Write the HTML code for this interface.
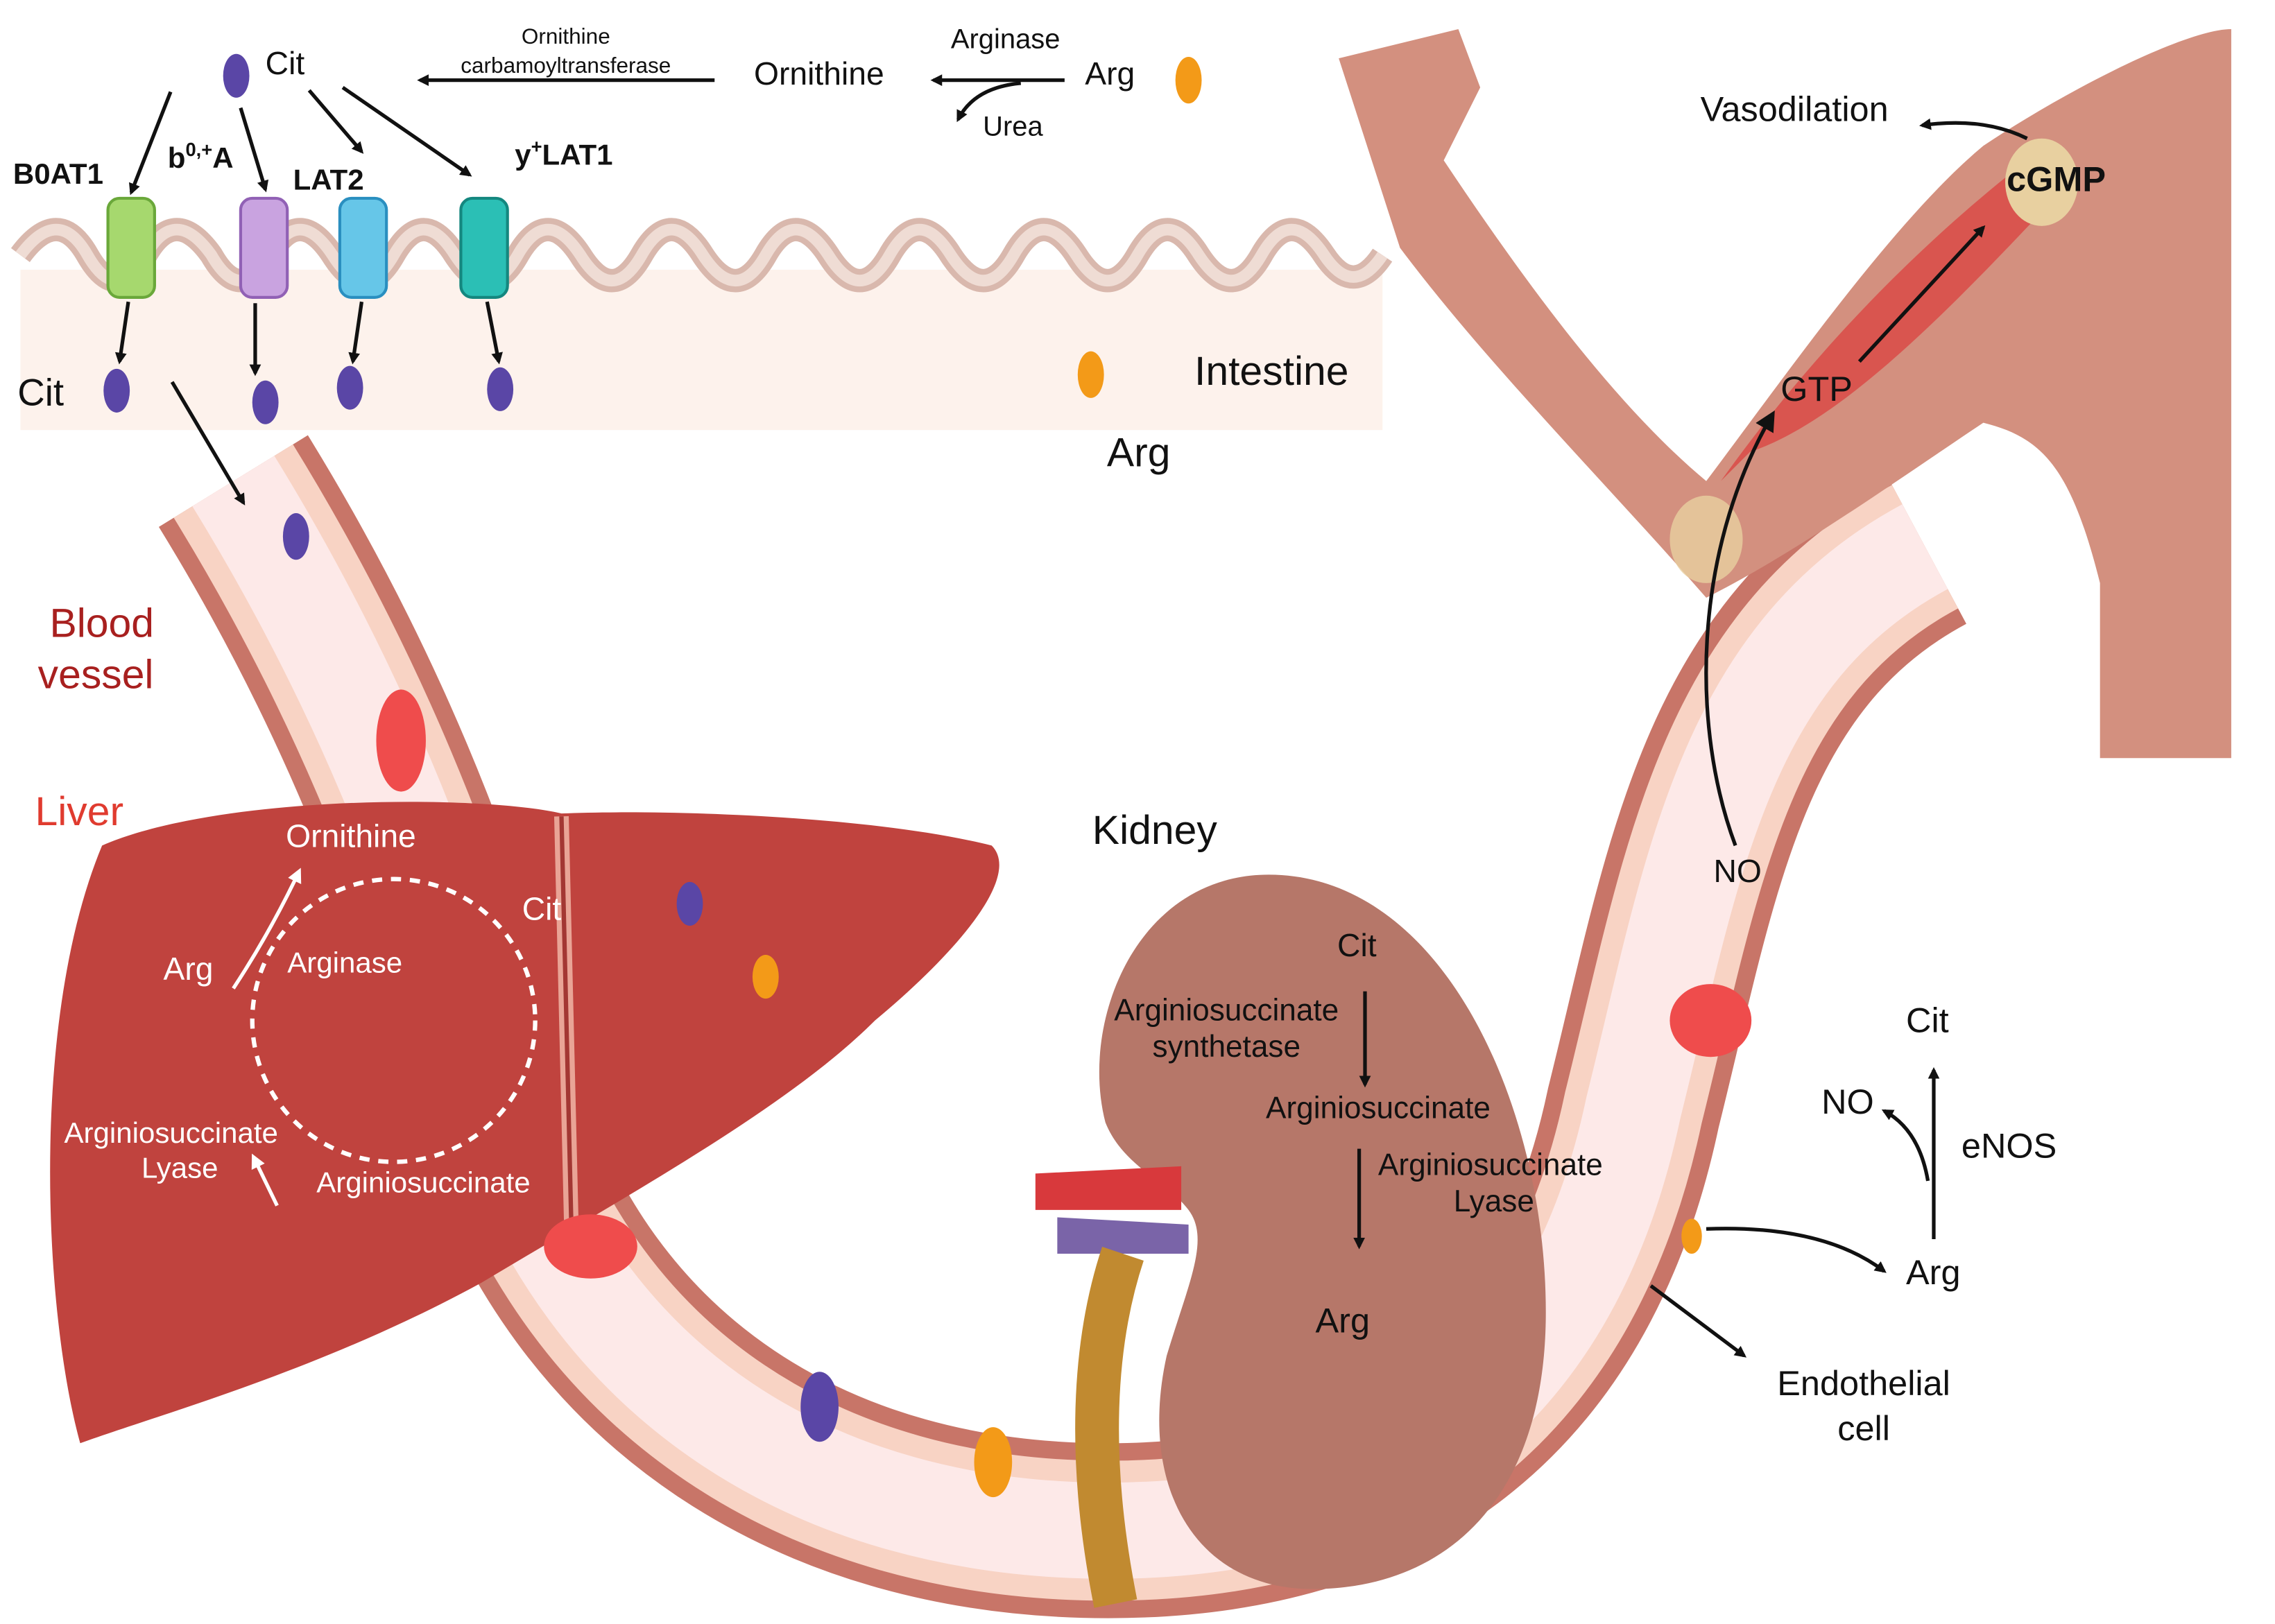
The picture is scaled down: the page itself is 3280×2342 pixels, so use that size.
<!DOCTYPE html>
<html><head><meta charset="utf-8"><style>
html,body{margin:0;padding:0;background:#fff}
svg{display:block}
text{font-family:"Liberation Sans",sans-serif}
</style></head><body>
<svg width="3280" height="2342" viewBox="0 0 1560 1114" preserveAspectRatio="none" xmlns="http://www.w3.org/2000/svg">
<defs>
<marker id="ah" markerWidth="8" markerHeight="8" refX="6" refY="4" orient="auto" markerUnits="userSpaceOnUse"><path d="M0,0 L8,4 L0,8 Z" fill="#111"/></marker>
<marker id="aw" markerWidth="10" markerHeight="10" refX="7" refY="5" orient="auto" markerUnits="userSpaceOnUse"><path d="M0,0 L10,5 L0,10 Z" fill="#fff"/></marker>
<marker id="ab" markerWidth="14" markerHeight="14" refX="10" refY="7" orient="auto" markerUnits="userSpaceOnUse"><path d="M0,0 L14,7 L0,14 Z" fill="#111"/></marker>
</defs>
<rect width="1560" height="1114" fill="#fff"/>
<!-- intestine -->
<rect x="14" y="185" width="934" height="110" fill="#fdf2ec"/>
<path d="M14,175 Q40,140 60,175 Q80,210 100,175 Q120,140 145,175 Q165,210 185,175 Q205,140 228,175 Q250,210 270,175 Q290,140 312,175 Q335,210 355,175 Q375,140 398,175 Q420,210 440,175 Q460,140 482,175 Q505,210 525,175 Q545,140 568,175 Q590,210 610,175 Q630,140 652,175 Q675,210 695,175 Q715,140 738,175 Q760,210 780,175 Q800,140 822,175 Q845,210 865,175 Q885,140 908,175 Q928,205 948,175" fill="none" stroke="#d9b8ad" stroke-width="16"/>
<path d="M14,175 Q40,140 60,175 Q80,210 100,175 Q120,140 145,175 Q165,210 185,175 Q205,140 228,175 Q250,210 270,175 Q290,140 312,175 Q335,210 355,175 Q375,140 398,175 Q420,210 440,175 Q460,140 482,175 Q505,210 525,175 Q545,140 568,175 Q590,210 610,175 Q630,140 652,175 Q675,210 695,175 Q715,140 738,175 Q760,210 780,175 Q800,140 822,175 Q845,210 865,175 Q885,140 908,175 Q928,205 948,175" fill="none" stroke="#efdcd4" stroke-width="8"/>
<!-- transporters -->
<g><rect x="74" y="136" width="32" height="68" rx="8" fill="#a6d86e" stroke="#6aa83a" stroke-width="2"/><rect x="165" y="136" width="32" height="68" rx="8" fill="#c9a3e0" stroke="#9161b5" stroke-width="2"/><rect x="233" y="136" width="32" height="68" rx="8" fill="#66c6e8" stroke="#2a8fc0" stroke-width="2"/><rect x="316" y="136" width="32" height="68" rx="8" fill="#2bbfb5" stroke="#14877f" stroke-width="2"/></g>
<!-- blood vessel -->
<path d="M160,330 C240,460 300,600 340,760 C400,950 560,1050 760,1050 C960,1050 1080,950 1120,760 C1160,600 1180,450 1320,375" fill="none" stroke="#c87568" stroke-width="120"/>
<path d="M160,330 C240,460 300,600 340,760 C400,950 560,1050 760,1050 C960,1050 1080,950 1120,760 C1160,600 1180,450 1320,375" fill="none" stroke="#f8d3c4" stroke-width="96"/>
<path d="M160,330 C240,460 300,600 340,760 C400,950 560,1050 760,1050 C960,1050 1080,950 1120,760 C1160,600 1180,450 1320,375" fill="none" stroke="#fde9e8" stroke-width="66"/>
<!-- arm -->
<path d="M918,40 L1000,20 L1015,60 L990,110 C1050,200 1110,280 1170,330 C1230,250 1300,150 1360,100 C1420,60 1500,20 1530,20 L1530,520 L1440,520 L1440,400 C1420,320 1400,300 1360,290 C1300,330 1230,380 1170,410 C1100,330 1020,250 960,170 Z" fill="#d3907f"/>
<path d="M1180,330 C1230,260 1300,180 1390,110 L1405,140 C1330,220 1260,290 1200,310 Z" fill="#d9554f"/>
<ellipse cx="1400" cy="125" rx="25" ry="30" fill="#e8d0a0"/>
<ellipse cx="1170" cy="370" rx="25" ry="30" fill="#e8d0a0" opacity="0.8"/>
<!-- liver -->
<path d="M70,580 C150,545 330,545 385,558 C460,555 600,560 680,580 C700,600 660,650 600,700 C540,760 430,820 330,880 C220,940 110,970 55,990 C30,900 20,700 70,580 Z" fill="#c0433e"/>
<path d="M385,560 L392,850" stroke="#e9a496" stroke-width="10" fill="none"/>
<path d="M385,560 L392,850" stroke="#a33733" stroke-width="3" fill="none"/>
<!-- kidney -->
<path d="M870,600 C990,600 1060,760 1060,900 C1060,1030 990,1090 900,1090 C820,1090 780,1020 800,930 C815,880 830,850 815,830 C800,810 770,800 758,770 C740,700 780,600 870,600 Z" fill="#b67769"/>
<path d="M710,805 L810,800 L810,830 L710,830 Z" fill="#d8393c"/>
<path d="M725,835 L815,840 L815,860 L725,860 Z" fill="#7a64a8"/>
<path d="M770,860 C750,920 745,1000 765,1100" stroke="#c18a30" stroke-width="30" fill="none"/>
<!-- RBCs and molecules -->
<ellipse cx="275" cy="508" rx="17" ry="35" fill="#ef4c4c"/>
<ellipse cx="405" cy="855" rx="32" ry="22" fill="#ef4c4c"/>
<ellipse cx="1173" cy="700" rx="28" ry="25" fill="#ef4c4c"/>
<g fill="#5a46a6"><ellipse cx="162" cy="52" rx="9" ry="15"/><ellipse cx="80" cy="268" rx="9" ry="15"/><ellipse cx="182" cy="276" rx="9" ry="15"/><ellipse cx="240" cy="266" rx="9" ry="15"/><ellipse cx="343" cy="267" rx="9" ry="15"/><ellipse cx="203" cy="368" rx="9" ry="16"/><ellipse cx="473" cy="620" rx="9" ry="15"/><ellipse cx="562" cy="965" rx="13" ry="24"/></g>
<g fill="#f39a18"><ellipse cx="815" cy="55" rx="9" ry="16"/><ellipse cx="748" cy="257" rx="9" ry="16"/><ellipse cx="525" cy="670" rx="9" ry="15"/><ellipse cx="681" cy="1003" rx="13" ry="24"/><ellipse cx="1160" cy="848" rx="7" ry="12"/></g>
<!-- dashed circle -->
<circle cx="270" cy="700" r="97" fill="none" stroke="#fff" stroke-width="3" stroke-dasharray="7,6"/>
<!-- arrows -->
<g stroke="#111" stroke-width="2.5" fill="none" marker-end="url(#ah)">
<path d="M490,55 L288,55"/><path d="M730,55 L640,55"/><path d="M700,57 Q668,60 657,82"/>
<path d="M117,63 L90,132"/><path d="M165,74 L182,130"/><path d="M212,62 L248,104"/><path d="M235,60 L322,120"/>
<path d="M88,207 L82,248"/><path d="M175,208 L175,256"/><path d="M248,207 L242,248"/><path d="M334,207 L342,248"/>
<path d="M118,262 L167,345"/>
<path d="M936,680 L936,744"/><path d="M932,788 L932,855"/>
<path d="M1326,850 L1326,734"/><path d="M1322,810 Q1316,775 1292,762"/>
<path d="M1170,843 Q1250,840 1292,872"/><path d="M1132,882 L1196,930"/>
<path d="M1275,248 L1360,156"/><path d="M1390,95 Q1360,80 1318,86"/>
</g>
<path d="M1190,580 C1160,500 1160,380 1215,285" stroke="#111" stroke-width="2.5" fill="none" marker-end="url(#ab)"/>
<g stroke="#fff" stroke-width="2.5" fill="none" marker-end="url(#aw)"><path d="M160,678 Q185,640 205,598"/><path d="M190,827 L174,794"/></g>
<!-- text -->
<g font-size="22" fill="#111">
<text x="182" y="51">Cit</text><text x="517" y="58">Ornithine</text><text x="652" y="33" font-size="19">Arginase</text><text x="744" y="58">Arg</text><text x="674" y="93" font-size="19">Urea</text>
<text x="388" y="30" font-size="15" text-anchor="middle">Ornithine</text><text x="388" y="50" font-size="15" text-anchor="middle">carbamoyltransferase</text>
<text x="9" y="126" font-weight="bold" font-size="20">B0AT1</text><text x="115" y="115" font-weight="bold" font-size="20">b<tspan font-size="13" dy="-8">0,+</tspan><tspan dy="8">A</tspan></text><text x="201" y="130" font-weight="bold" font-size="20">LAT2</text><text x="353" y="113" font-weight="bold" font-size="20">y<tspan font-size="13" dy="-8">+</tspan><tspan dy="8">LAT1</tspan></text>
<text x="12" y="278" font-size="26">Cit</text><text x="819" y="264" font-size="28">Intestine</text><text x="759" y="320" font-size="28">Arg</text>
<text x="34" y="437" font-size="28" fill="#a8201f">Blood</text><text x="26" y="472" font-size="28" fill="#a8201f">vessel</text><text x="24" y="566" font-size="28" fill="#e03b2f">Liver</text>
<text x="749" y="579" font-size="28">Kidney</text>
<text x="1166" y="83" font-size="24">Vasodilation</text><text x="1376" y="131" font-weight="bold" font-size="24">cGMP</text><text x="1221" y="275" font-size="24">GTP</text><text x="1175" y="605" font-size="22">NO</text>
<text x="1307" y="708" font-size="24">Cit</text><text x="1249" y="764" font-size="24">NO</text><text x="1345" y="794" font-size="24">eNOS</text><text x="1307" y="881" font-size="24">Arg</text><text x="1278" y="957" font-size="24" text-anchor="middle">Endothelial</text><text x="1278" y="988" font-size="24" text-anchor="middle">cell</text>
<text x="917" y="656">Cit</text><text x="841" y="700" text-anchor="middle" font-size="21">Arginiosuccinate</text><text x="841" y="725" text-anchor="middle" font-size="21">synthetase</text><text x="868" y="767" font-size="21">Arginiosuccinate</text><text x="945" y="806" font-size="21">Arginiosuccinate</text><text x="1052" y="831" font-size="21" text-anchor="end">Lyase</text><text x="902" y="914" font-size="24">Arg</text>
</g>
<g fill="#fff" font-size="22">
<text x="196" y="581">Ornithine</text><text x="358" y="631">Cit</text><text x="112" y="672">Arg</text><text x="197" y="667" font-size="20">Arginase</text><text x="44" y="784" font-size="20">Arginiosuccinate</text><text x="97" y="808" font-size="20">Lyase</text><text x="217" y="818" font-size="20">Arginiosuccinate</text>
</g>
</svg>
</body></html>
